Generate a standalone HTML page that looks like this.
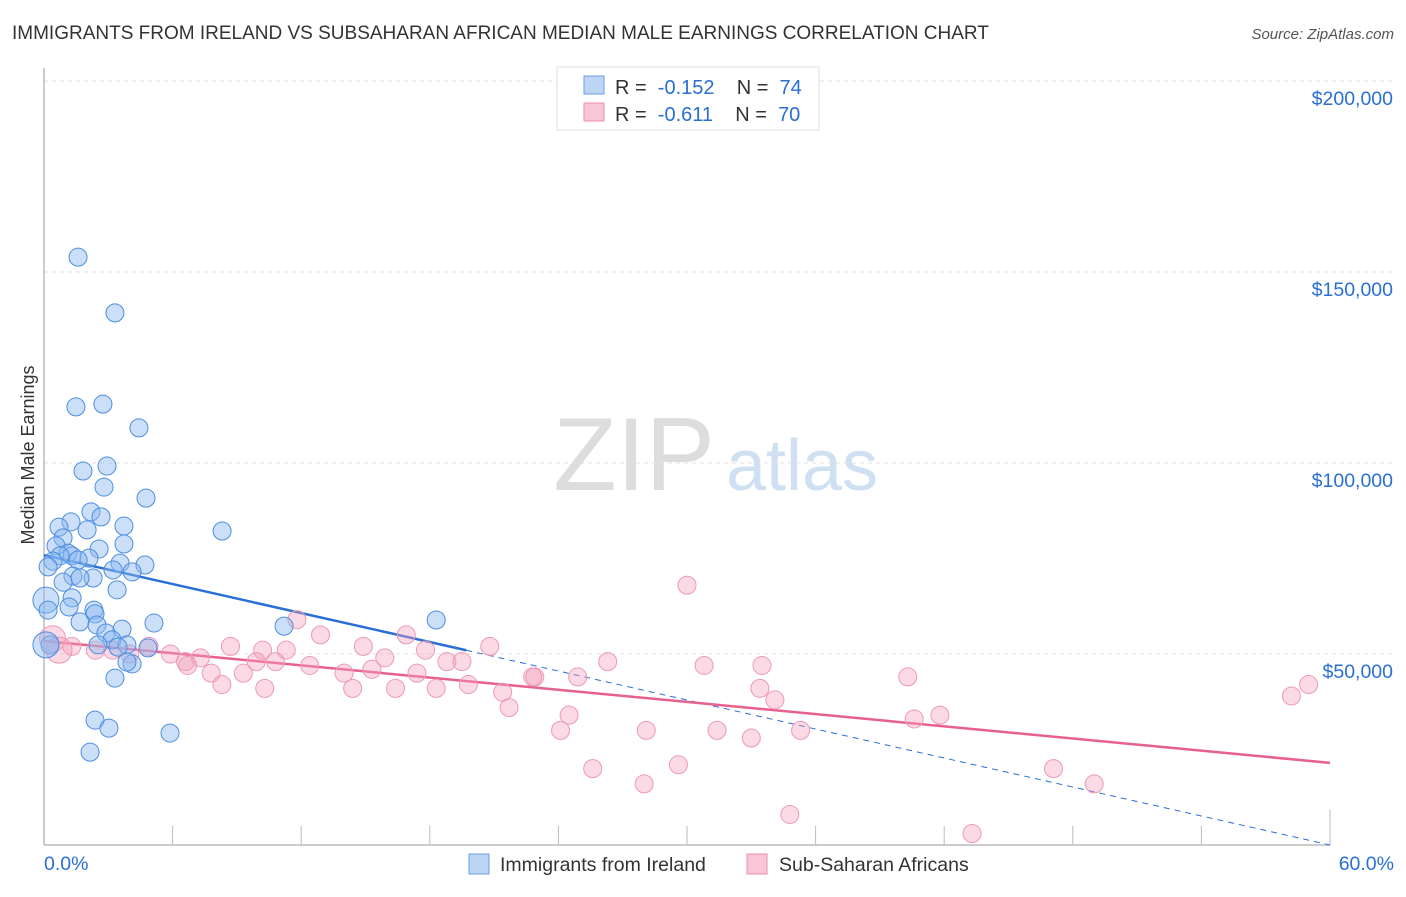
<!DOCTYPE html>
<html><head><meta charset="utf-8"><style>
body{margin:0;background:#fff;font-family:"Liberation Sans",sans-serif;}
svg text{font-family:"Liberation Sans",sans-serif;white-space:pre;}
</style></head><body>
<svg id="chart" width="1406" height="892" xmlns="http://www.w3.org/2000/svg">
<text x="12" y="39" font-size="19" fill="#333">IMMIGRANTS FROM IRELAND VS SUBSAHARAN AFRICAN MEDIAN MALE EARNINGS CORRELATION CHART</text>
<text x="1394" y="39" font-size="15" fill="#555" text-anchor="end" font-style="italic">Source: ZipAtlas.com</text>
<text x="0" y="0" transform="translate(34,455) rotate(-90)" font-size="18" fill="#333" text-anchor="middle">Median Male Earnings</text>
<g><text x="634" y="490" font-size="104" fill="#ddd" font-family="Liberation Serif" text-anchor="middle">ZIP</text><text x="802" y="490" font-size="72" fill="#cfe0f3" text-anchor="middle">atlas</text></g>
<g id="grid"></g><g id="axes"></g><g id="trend"></g><g id="pts"></g>
<g>
<rect x="557" y="67" width="262" height="63" fill="#fff" stroke="#ddd"/>
<rect x="584" y="76" width="20" height="18" fill="#bcd5f5" stroke="#6a9fe0"/>
<text x="615" y="94" font-size="20" fill="#333">R =  <tspan fill="#2a6fd6">-0.152</tspan>    N =  <tspan fill="#2a6fd6">74</tspan></text>
<rect x="584" y="103" width="20" height="18" fill="#f8c6d6" stroke="#e890ad"/>
<text x="615" y="121" font-size="20" fill="#333">R =  <tspan fill="#2a6fd6">-0.611</tspan>    N =  <tspan fill="#2a6fd6">70</tspan></text>
</g>
<g>
<rect x="469" y="854" width="20" height="20" fill="#bcd5f5" stroke="#6a9fe0"/>
<text x="500" y="871" font-size="19.5" fill="#333">Immigrants from Ireland</text>
<rect x="747" y="854" width="20" height="20" fill="#f8c6d6" stroke="#e890ad"/>
<text x="779" y="871" font-size="19.5" fill="#333">Sub-Saharan Africans</text>
</g>
</svg>
<script>
const yTicks=[50000,100000,150000,200000];
const yTickLabels=["$50,000","$100,000","$150,000","$200,000"];
const xTickLabels=["0.0%","60.0%"];
const blueX=[1.59,3.31,1.49,2.75,4.43,1.82,2.94,2.80,4.76,2.19,2.66,1.26,0.70,3.73,2.01,8.31,0.89,3.73,0.56,2.57,1.12,1.31,2.10,0.75,1.59,0.42,3.55,4.71,0.19,3.22,4.11,1.35,2.29,1.68,0.89,3.41,1.31,0.09,1.17,2.33,2.38,0.19,5.13,1.68,2.47,3.64,11.2,18.3,2.89,3.17,3.87,2.52,4.85,3.45,0.28,4.11,3.87,3.31,2.38,3.03,5.88,2.15,0.09];
const blueY=[153.9,139.3,114.7,115.4,109.2,97.9,99.2,93.7,90.8,87.2,85.9,84.6,83.2,83.5,82.5,82.2,80.4,78.8,78.3,77.5,76.4,75.7,75.1,75.7,74.6,74.3,73.8,73.3,72.8,72.0,71.5,70.4,69.9,69.9,68.8,66.8,64.7,64.1,62.3,61.5,60.5,61.5,58.1,58.4,57.6,56.5,57.3,58.9,55.5,53.7,52.4,52.4,51.6,51.8,52.4,47.4,47.9,43.7,32.7,30.6,29.3,24.3,52.4];
const pinkX=[30.0,11.8,16.9,12.9,8.7,11.3,14.9,20.8,17.8,10.2,4.9,5.9,7.3,26.3,18.8,19.5,30.8,33.5,9.9,15.9,10.8,12.4,14.0,15.3,17.4,22.9,24.9,9.3,7.8,6.6,6.7,22.8,19.8,8.3,10.3,14.4,16.4,18.3,21.4,33.4,40.3,34.1,21.7,24.5,40.6,41.8,24.1,28.1,31.4,33.0,35.3,29.6,25.6,28.0,47.1,49.0,34.8,43.3,58.2,59.0,0.4,1.3,2.4,3.2,4.0,0.7];
const pinkY=[68,59,55,55,52,51,52,52,51,51,52,50,49,48,48,48,47,47,48,49,48,47,45,46,45,44,44,45,45,48,47,44,42,42,41,41,41,41,40,41,44,38,36,34,33,34,30,30,30,28,30,21,20,16,20,16,8,3,39,42,54,52,51,51,50,51];
const trendBlue=[75.9,0];
const blueSolidEnd=19.7;
const trendPink=[53.4,21.5];
const X=v=>44+v/60*1286, Y=v=>845-v/50*191;
const ns="http://www.w3.org/2000/svg";
function mk(p,t,a){const e=document.createElementNS(ns,t);for(const k in a)e.setAttribute(k,a[k]);document.getElementById(p).appendChild(e);return e;}
yTicks.forEach((t,i)=>{const y=Y(t/1000);
 const l=mk('grid','line',{x1:44,x2:1394,y1:y,y2:y,stroke:'#e2e2e2','stroke-dasharray':'4,4'});
 
 
 const tx=mk('grid','text',{x:1393,y:y+24,'font-size':19.5,fill:'#2a6fd6','text-anchor':'end'});tx.textContent=yTickLabels[i];
 
 });
mk('axes','line',{x1:44,x2:44,y1:68,y2:845,stroke:'#bbb','stroke-width':1.5});
mk('axes','line',{x1:44,x2:1330,y1:845,y2:845,stroke:'#bbb','stroke-width':1.5});
for(let i=1;i<=10;i++){const x=X(i*6);mk('axes','line',{x1:x,x2:x,y1:i==10?810:826,y2:845,stroke:'#bbb'});}
xTickLabels.forEach((t,i)=>{const e=mk('axes','text',{x:i?1394:44,y:870,'font-size':19.5,fill:'#2a6fd6','text-anchor':i?'end':'start'});e.textContent=t;
 
 });
const bs=trendBlue[0],bslope=(trendBlue[1]-bs)/60;
const l1=mk('trend','line',{x1:X(0),y1:Y(bs),x2:X(blueSolidEnd),y2:Y(bs+bslope*blueSolidEnd),stroke:'#2a6fd6','stroke-width':2.5});


const l2=mk('trend','line',{x1:X(blueSolidEnd),y1:Y(bs+bslope*blueSolidEnd),x2:X(60),y2:Y(bs+bslope*60),stroke:'#2a6fd6','stroke-width':1,'stroke-dasharray':'6,5'});


const l3=mk('trend','line',{x1:X(0),y1:Y(trendPink[0]),x2:X(60),y2:Y(trendPink[1]),stroke:'#e8608e','stroke-width':2.5});


pinkX.forEach((x,i)=>{const c=mk('pts','circle',{cx:X(x),cy:Y(pinkY[i]),r:x<1?13:9,fill:'rgba(244,160,190,0.4)',stroke:'#ec9ab6','stroke-width':1});
 
 });
blueX.forEach((x,i)=>{const c=mk('pts','circle',{cx:X(x),cy:Y(blueY[i]),r:x<0.15?13:9,fill:'rgba(140,185,240,0.45)',stroke:'#4d8ee0','stroke-width':1});
 
 });
</script>
</body></html>
